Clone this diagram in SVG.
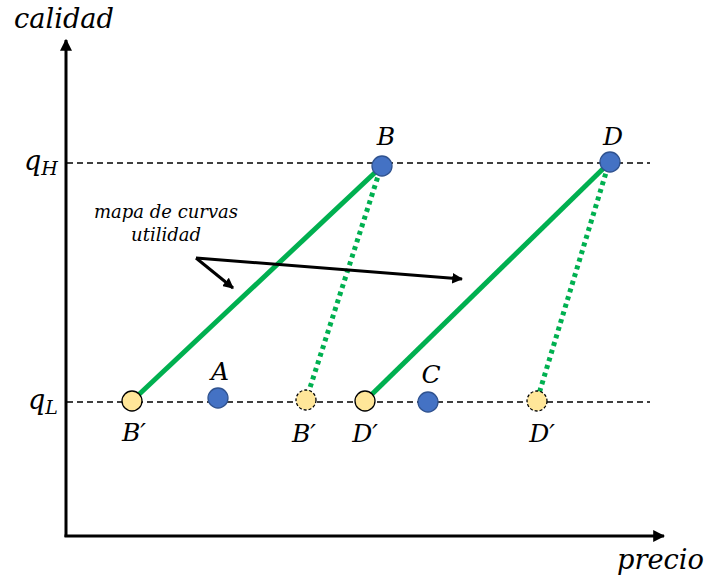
<svg xmlns="http://www.w3.org/2000/svg" width="706" height="577" viewBox="0 0 706 577">
<defs>
<marker id="ah" viewBox="0 0 10 10" refX="9" refY="5" markerWidth="4" markerHeight="4" orient="auto" markerUnits="strokeWidth"><path d="M0,0 L10,5 L0,10 z" fill="#000"/></marker>
<marker id="ah2" viewBox="0 0 10 10" refX="9" refY="5" markerWidth="3.6" markerHeight="3.6" orient="auto" markerUnits="strokeWidth"><path d="M0,0 L10,5 L0,10 z" fill="#000"/></marker>
</defs>
<style>
text{font-family:"DejaVu Serif","Liberation Serif",serif;font-style:italic;fill:#000}
.lbl{font-size:25px}
.axl{font-size:27px}
.note{font-size:18px}
.dash{stroke:#000;stroke-width:1.3;stroke-dasharray:6,4;fill:none}
.g{stroke:#00b050;stroke-width:5;fill:none}
.gd{stroke:#00b050;stroke-width:5;stroke-dasharray:4,4;fill:none}
.blue{fill:#4472c4;stroke:#2f528f;stroke-width:1.3}
.yel{fill:#ffe699;stroke:#000;stroke-width:1.3}
.yeld{fill:#ffe699;stroke:#000;stroke-width:1.3;stroke-dasharray:3,2}
</style>
<g id="axes">
<line x1="66" y1="537" x2="66" y2="40" stroke="#000" stroke-width="3" marker-end="url(#ah)"/>
<line x1="64.5" y1="536" x2="664" y2="536" stroke="#000" stroke-width="3" marker-end="url(#ah)"/>
<text class="axl" x="14" y="28" textLength="100" lengthAdjust="spacingAndGlyphs">calidad</text>
<text class="axl" x="617" y="569" textLength="87" lengthAdjust="spacingAndGlyphs">precio</text>
</g>
<g id="levels">
<line class="dash" x1="67" y1="163" x2="650" y2="163"/>
<line class="dash" x1="67" y1="402" x2="650" y2="402"/>
<text class="axl" x="24" y="170">q<tspan font-size="19" dy="5">H</tspan></text>
<text class="axl" x="28" y="409">q<tspan font-size="19" dy="5">L</tspan></text>
</g>
<g id="connectors">
<line class="g" x1="132" y1="401" x2="382" y2="166"/>
<line class="g" x1="365" y1="401" x2="610" y2="162"/>
<line class="gd" x1="380" y1="170" x2="307" y2="397"/>
<line class="gd" x1="608" y1="166" x2="538" y2="397"/>
<line x1="196" y1="258" x2="233" y2="288" stroke="#000" stroke-width="3" marker-end="url(#ah2)"/>
<line x1="196" y1="258" x2="462" y2="279" stroke="#000" stroke-width="3" marker-end="url(#ah2)"/>
</g>
<g id="note">
<text class="note" x="166" y="218" text-anchor="middle">mapa de curvas</text>
<text class="note" x="166" y="241" text-anchor="middle">utilidad</text>
</g>
<g id="B"><circle class="blue" cx="382" cy="166" r="10"/><text class="lbl" x="386" y="145" text-anchor="middle">B</text></g>
<g id="D"><circle class="blue" cx="610" cy="162" r="10"/><text class="lbl" x="613" y="145" text-anchor="middle">D</text></g>
<g id="A"><circle class="blue" cx="218" cy="398" r="10"/><text class="lbl" x="220" y="380" text-anchor="middle">A</text></g>
<g id="C"><circle class="blue" cx="428" cy="402" r="10"/><text class="lbl" x="431" y="383" text-anchor="middle">C</text></g>
<g id="B1"><circle class="yel" cx="132" cy="401" r="10"/><text class="lbl" x="134" y="441" text-anchor="middle">B′</text></g>
<g id="B2"><circle class="yeld" cx="306" cy="400" r="10"/><text class="lbl" x="304" y="442" text-anchor="middle">B′</text></g>
<g id="D1"><circle class="yel" cx="365" cy="401" r="10"/><text class="lbl" x="365" y="442" text-anchor="middle">D′</text></g>
<g id="D2"><circle class="yeld" cx="537" cy="401" r="10"/><text class="lbl" x="542" y="442" text-anchor="middle">D′</text></g>
</svg>
